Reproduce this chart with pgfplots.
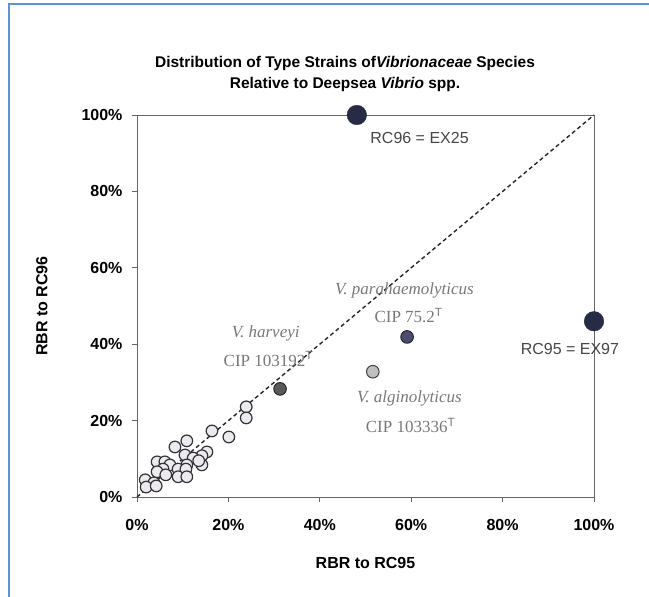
\documentclass[border=0pt]{standalone}
\usepackage{pgfplots}
\pgfplotsset{compat=1.18}
\usepackage{fontspec}
\setmainfont{Liberation Sans}
\newfontfamily\serif{Liberation Serif}
\definecolor{frameblue}{RGB}{91,150,215}
\definecolor{navy}{RGB}{40,43,70}
\definecolor{opfill}{RGB}{236,234,238}
\definecolor{opedge}{RGB}{50,50,56}
\definecolor{annot}{RGB}{70,70,70}
\definecolor{seriftxt}{RGB}{120,120,120}
\begin{document}
\begin{tikzpicture}
\path[use as bounding box] (0,0) rectangle (649pt,597pt);
\draw[frameblue, line width=1.2pt] (9pt,0pt) -- (9pt,593pt) -- (649pt,593pt);
\node[align=center, font=\bfseries\fontsize{15.5}{21}\selectfont] at (345pt,523.5pt)
  {Distribution of Type Strains of\textit{Vibrionaceae} Species\\Relative to Deepsea \textit{Vibrio} spp.};
\begin{axis}[
  at={(137pt,100pt)}, anchor=south west,
  scale only axis, width=457pt, height=382pt,
  xmin=0, xmax=100, ymin=0, ymax=100,
  clip=false,
  axis line style={draw=gray!80!black, line width=0.7pt},
  tick align=outside, tick pos=left,
  major tick length=5pt,
  tick style={gray!80!black, line width=0.7pt},
  xtick={0,20,...,100}, ytick={0,20,...,100},
  xticklabel={\pgfmathprintnumber{\tick}\%},
  yticklabel={\pgfmathprintnumber{\tick}\%},
  /pgf/number format/assume math mode=true,
  ticklabel style={font=\bfseries\fontsize{16}{19}\selectfont},
  xticklabel style={yshift=-14pt},
  yticklabel style={xshift=-6pt},
  xlabel={RBR to RC95}, ylabel={RBR to RC96},
  every axis x label/.style={at={(axis description cs:0.5,-0.1728)}, anchor=center, font=\bfseries\fontsize{16}{19}\selectfont},
  every axis y label/.style={at={(axis description cs:-0.208,0.5)}, anchor=center, rotate=90, font=\bfseries\fontsize{16}{19}\selectfont},
]
\addplot[only marks, mark=*, mark size=5.8pt, mark options={fill=opfill, draw=opedge, line width=1.2pt}] coordinates {
(23.9,23.6) (23.9,20.7) (20.1,15.7) (16.4,17.3) (10.9,14.7) (8.3,13.1)
(15.3,11.8) (14.2,10.8) (10.5,11.0) (12.3,10.2) (4.4,9.2) (6.1,9.2)
(7.2,8.4) (10.9,8.4) (14.2,8.4) (5.7,7.3) (9.0,7.3) (10.7,7.3)
(4.4,6.6) (6.3,5.8) (9.0,5.3) (10.9,5.3) (1.8,4.5) (3.7,3.7)
(2.0,2.6) (4.2,2.9) (13.5,9.5)
};
\addplot[black!85, line width=1.4pt, dash pattern=on 4pt off 3pt] coordinates {(0,0) (100,100)};
% V. harveyi
\addplot[only marks, mark=*, mark size=6.3pt, mark options={fill=gray!70!black, draw=black!85, line width=1pt}] coordinates {(31.3,28.3)};
% V. parahaemolyticus
\addplot[only marks, mark=*, mark size=6.3pt, mark options={fill=black!65!blue!40!gray, draw=black!85, line width=1pt}] coordinates {(59.1,41.9)};
% V. alginolyticus
\addplot[only marks, mark=*, mark size=6.3pt, mark options={fill=gray!50, draw=black!75, line width=1pt}] coordinates {(51.6,32.8)};
% EX25, EX97
\addplot[only marks, mark=*, mark size=9.8pt, mark options={fill=navy, draw=navy}] coordinates {(48.1,100) (100,46)};
\node[anchor=west, text=annot, font=\fontsize{16}{19}\selectfont] at (axis cs:50.3,94.0) {RC96 = EX25};
\node[anchor=west, text=annot, font=\fontsize{16}{19}\selectfont] at (axis cs:83.2,38.7) {RC95 = EX97};
\node[anchor=west, text=seriftxt, font=\serif\itshape\fontsize{17}{20}\selectfont] at (axis cs:20.0,42.9) {V. harveyi};
\node[anchor=west, text=seriftxt, font=\serif\fontsize{17}{20}\selectfont] at (axis cs:18.2,36.1) {CIP 103192$^{\mathrm{T}}$};
\node[anchor=west, text=seriftxt, font=\serif\itshape\fontsize{17}{20}\selectfont] at (axis cs:42.6,54.2) {V. parahaemolyticus};
\node[anchor=west, text=seriftxt, font=\serif\fontsize{17}{20}\selectfont] at (axis cs:51.2,47.6) {CIP 75.2$^{\mathrm{T}}$};
\node[anchor=west, text=seriftxt, font=\serif\itshape\fontsize{17}{20}\selectfont] at (axis cs:47.4,25.9) {V. alginolyticus};
\node[anchor=west, text=seriftxt, font=\serif\fontsize{17}{20}\selectfont] at (axis cs:49.3,18.8) {CIP 103336$^{\mathrm{T}}$};
\end{axis}
\end{tikzpicture}
\end{document}
